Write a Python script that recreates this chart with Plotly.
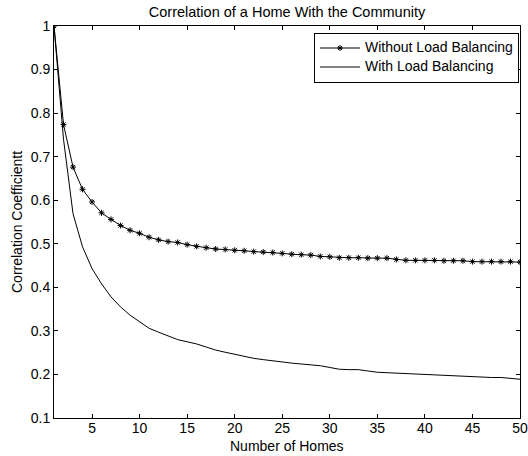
import plotly.graph_objects as go

homes = list(range(1, 51))
without_lb = [1.0, 0.774, 0.676, 0.625, 0.596, 0.571, 0.556, 0.542, 0.531, 0.524,
              0.515, 0.509, 0.505, 0.503, 0.498, 0.494, 0.491, 0.488, 0.487, 0.485,
              0.484, 0.482, 0.481, 0.480, 0.478, 0.476, 0.475, 0.474, 0.471, 0.470,
              0.468, 0.468, 0.468, 0.467, 0.467, 0.467, 0.464, 0.462, 0.462, 0.462,
              0.462, 0.461, 0.461, 0.461, 0.459, 0.459, 0.459, 0.459, 0.459, 0.458]
with_lb = [1.0, 0.74, 0.569, 0.493, 0.443, 0.408, 0.378, 0.355, 0.336, 0.320,
           0.306, 0.297, 0.289, 0.280, 0.275, 0.270, 0.263, 0.256, 0.251, 0.246,
           0.242, 0.237, 0.234, 0.231, 0.228, 0.226, 0.224, 0.222, 0.220, 0.216,
           0.212, 0.211, 0.211, 0.208, 0.205, 0.204, 0.203, 0.202, 0.201, 0.200,
           0.199, 0.198, 0.197, 0.195, 0.194, 0.193, 0.193, 0.193, 0.191, 0.189]
x_ticks = [5, 10, 15, 20, 25, 30, 35, 40, 45, 50]
y_ticks = [0.1, 0.2, 0.3, 0.4, 0.5, 0.6, 0.7, 0.8, 0.9, 1.0]
y_ticktext = ["0.1", "0.2", "0.3", "0.4", "0.5", "0.6", "0.7", "0.8", "0.9", "1"]
series_names = ["Without Load Balancing", "With Load Balancing"]

FONT = "Liberation Sans, Arial, Helvetica, sans-serif"
W, H = 528, 456
ML, MR, MT, MB = 54, 8, 26, 38


def big(s):
    return '<span style="font-size:14px">' + s + '</span>'


fig = go.Figure()
fig.add_trace(go.Scatter(
    x=homes, y=without_lb, mode="lines+markers", name=big(series_names[0]),
    line=dict(color="black", width=1),
    marker=dict(symbol="asterisk-open", size=5, color="black",
                line=dict(color="black", width=1)),
))
fig.add_trace(go.Scatter(
    x=homes, y=with_lb, mode="lines", name=big(series_names[1]),
    line=dict(color="black", width=1),
))

axis_common = dict(
    showline=True, linecolor="black", linewidth=1, mirror="allticks",
    ticks="inside", ticklen=4, tickcolor="black", tickwidth=1,
    showgrid=False, zeroline=False, automargin=False,
    tickfont=dict(family=FONT, size=14, color="black"),
)

plot_h = H - MT - MB
plot_w = W - ML - MR

fig.update_layout(
    width=W, height=H,
    margin=dict(l=ML, r=MR, t=MT, b=MB),
    paper_bgcolor="white", plot_bgcolor="white",
    font=dict(family=FONT, size=14, color="black"),
    title=dict(text="Correlation of a Home With the Community",
               x=(ML + W - MR) / 2 / W, xanchor="center",
               y=1 - 12 / H, yanchor="middle",
               font=dict(family=FONT, size=14.5, color="black")),
    xaxis=dict(range=[1, 50], tickvals=x_ticks, ticklabelstandoff=-3, **axis_common),
    yaxis=dict(range=[0.1, 1.0], tickvals=y_ticks, ticktext=y_ticktext,
               **axis_common),
    legend=dict(x=1 - 1 / plot_w, y=1 - 6.5 / plot_h, xanchor="right", yanchor="top",
                bgcolor="white", bordercolor="black", borderwidth=1,
                font=dict(family=FONT, size=10, color="black"),
                tracegroupgap=0, itemwidth=40),
    showlegend=True,
    annotations=[
        dict(text="Number of Homes", xref="paper", yref="paper", x=0.5, y=0,
             xanchor="center", yanchor="middle", yshift=-28, showarrow=False,
             font=dict(family=FONT, size=14, color="black")),
        dict(text="Correlation Coefficientt", xref="paper", yref="paper", x=0, y=0.5,
             xanchor="center", yanchor="middle", xshift=-(ML - 17), textangle=-90,
             showarrow=False, font=dict(family=FONT, size=14, color="black")),
    ],
)

fig.write_html("out.html", config={"displayModeBar": False},
               post_script="document.body.style.margin='0';document.body.style.padding='0';")
